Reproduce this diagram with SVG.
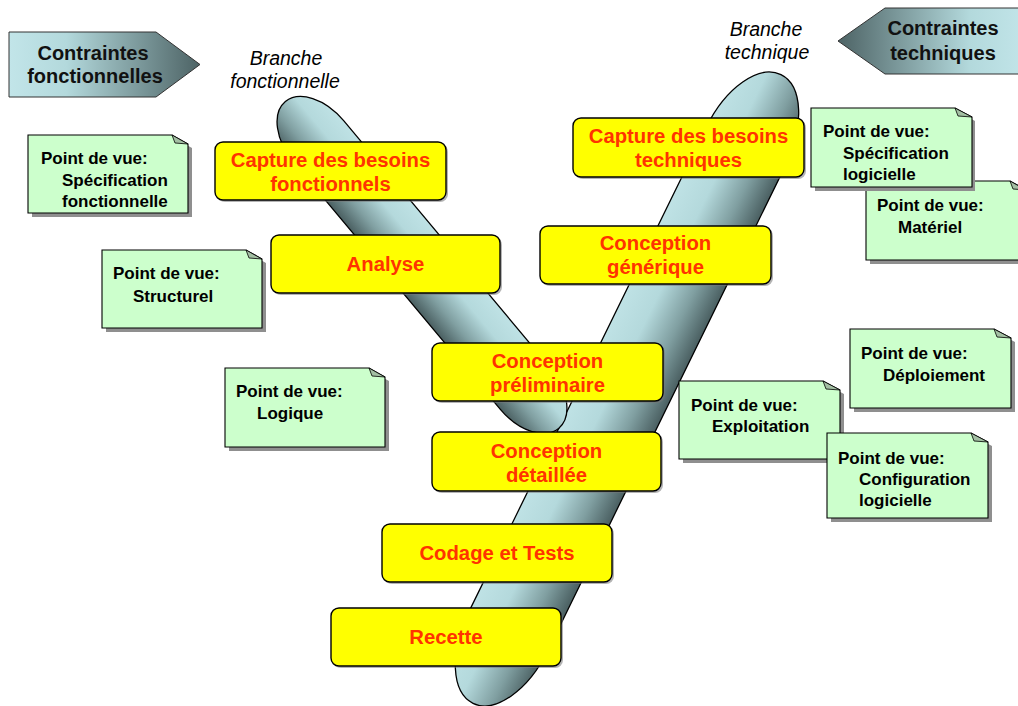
<svg xmlns="http://www.w3.org/2000/svg" width="1018" height="706" viewBox="0 0 1018 706">
  <defs>
    <!-- shading across the two branch cylinders: lit side to dark side -->
    <linearGradient id="cyl" x1="0" y1="0" x2="0" y2="1">
      <stop offset="0" stop-color="#bfe2e5"/>
      <stop offset="0.35" stop-color="#b4d9dc"/>
      <stop offset="0.7" stop-color="#809fa1"/>
      <stop offset="1" stop-color="#4a5f61"/>
    </linearGradient>
    <linearGradient id="arrowL" x1="0" y1="0" x2="1" y2="0">
      <stop offset="0" stop-color="#c2e5e9"/>
      <stop offset="0.3" stop-color="#b3d9dc"/>
      <stop offset="1" stop-color="#4d6365"/>
    </linearGradient>
    <linearGradient id="arrowR" x1="1" y1="0" x2="0" y2="0">
      <stop offset="0" stop-color="#c2e5e9"/>
      <stop offset="0.3" stop-color="#b3d9dc"/>
      <stop offset="1" stop-color="#4d6365"/>
    </linearGradient>
  </defs>
  <style>
    .cyl { fill: url(#cyl); stroke: #000; stroke-width: 1.3; }
    .arrow { stroke: #333; stroke-width: 1; }
    .title { font-family: "Liberation Sans", Arial, sans-serif; font-weight: bold; font-size: 20px; fill: #111; text-anchor: middle; }
    .branch { font-family: "Liberation Sans", Arial, sans-serif; font-style: italic; font-size: 19.5px; fill: #000; text-anchor: middle; }
    .step rect.box { fill: #ffff00; stroke: #000; stroke-width: 1.4; }
    .step rect.shadow { fill: #777; opacity: 0.55; }
    .step text { font-family: "Liberation Sans", Arial, sans-serif; font-weight: bold; font-size: 20.3px; fill: #ff3300; text-anchor: middle; }
    .note .shadow { fill: #8f8f8f; }
    .note .body { fill: #ccffcc; stroke: #000; stroke-width: 1.1; stroke-linejoin: miter; }
    .note .fold { fill: #a3bfa3; stroke: #000; stroke-width: 0.8; }
    .note text { font-family: "Liberation Sans", Arial, sans-serif; font-weight: bold; font-size: 17px; fill: #000; }
  </style>

  <!-- constraint arrows -->
  <g id="contraintes-fonctionnelles">
    <path class="arrow" fill="url(#arrowL)" d="M9,32 H156 L200,64.5 L156,97 H9 Z"/>
    <text class="title" x="93" y="60">Contraintes</text>
    <text class="title" x="95" y="83">fonctionnelles</text>
  </g>
  <g id="contraintes-techniques">
    <path class="arrow" fill="url(#arrowR)" d="M1026,8 H885 L838,41 L885,74 H1026 Z"/>
    <text class="title" x="943" y="35">Contraintes</text>
    <text class="title" x="943" y="60">techniques</text>
  </g>

  <!-- branch labels -->
  <g id="label-branche-fonctionnelle">
    <text class="branch" x="286" y="65">Branche</text>
    <text class="branch" x="285" y="88">fonctionnelle</text>
  </g>
  <g id="label-branche-technique">
    <text class="branch" x="766" y="36">Branche</text>
    <text class="branch" x="767" y="59">technique</text>
  </g>

  <!-- the two branches of the Y -->
  <g id="branches">
    <g id="cylindre-technique" transform="translate(627 389) rotate(-63.9)">
      <rect class="cyl" x="-350" y="-44" width="700" height="88" rx="80" ry="44"/>
    </g>
    <g id="cylindre-fonctionnel" transform="translate(422 265) rotate(50.1)">
      <rect class="cyl" x="-213" y="-32.5" width="426" height="65" rx="52" ry="32.5"/>
    </g>
  </g>

  <!-- process steps -->
  <g id="step-capture-fonctionnels" class="step">
    <rect class="shadow" x="217" y="144" width="231" height="58" rx="8"/>
    <rect class="box" x="215" y="142" width="231" height="58" rx="8"/>
    <text x="330.5" y="167">Capture des besoins</text>
    <text x="330.5" y="191">fonctionnels</text>
  </g>
  <g id="step-analyse" class="step">
    <rect class="shadow" x="273" y="237" width="229" height="58" rx="8"/>
    <rect class="box" x="271" y="235" width="229" height="58" rx="8"/>
    <text x="385.5" y="271">Analyse</text>
  </g>
  <g id="step-capture-techniques" class="step">
    <rect class="shadow" x="575" y="120" width="231" height="59" rx="8"/>
    <rect class="box" x="573" y="118" width="231" height="59" rx="8"/>
    <text x="688.5" y="143">Capture des besoins</text>
    <text x="688.5" y="167">techniques</text>
  </g>
  <g id="step-conception-generique" class="step">
    <rect class="shadow" x="542" y="228" width="231" height="58" rx="8"/>
    <rect class="box" x="540" y="226" width="231" height="58" rx="8"/>
    <text x="655.5" y="250">Conception</text>
    <text x="655.5" y="274">générique</text>
  </g>
  <g id="step-conception-preliminaire" class="step">
    <rect class="shadow" x="434" y="345" width="231" height="58" rx="8"/>
    <rect class="box" x="432" y="343" width="231" height="58" rx="8"/>
    <text x="547.5" y="368">Conception</text>
    <text x="547.5" y="392">préliminaire</text>
  </g>
  <g id="step-conception-detaillee" class="step">
    <rect class="shadow" x="434" y="434" width="229" height="59" rx="8"/>
    <rect class="box" x="432" y="432" width="229" height="59" rx="8"/>
    <text x="546.5" y="458">Conception</text>
    <text x="546.5" y="482">détaillée</text>
  </g>
  <g id="step-codage-tests" class="step">
    <rect class="shadow" x="384" y="526" width="230" height="58" rx="8"/>
    <rect class="box" x="382" y="524" width="230" height="58" rx="8"/>
    <text x="497" y="560">Codage et Tests</text>
  </g>
  <g id="step-recette" class="step">
    <rect class="shadow" x="333" y="610" width="230" height="58" rx="8"/>
    <rect class="box" x="331" y="608" width="230" height="58" rx="8"/>
    <text x="446" y="644">Recette</text>
  </g>

  <!-- viewpoint notes (folded top-right corner) -->
  <g id="note-specification-fonctionnelle" class="note" transform="translate(28 135)">
    <path class="shadow" d="M4,4 H148 L164,13 V82 H4 Z"/>
    <path class="body" d="M0,0 H144 L160,9 V78 H0 Z"/>
    <path class="fold" d="M144,0 L147,8 L160,9 Z"/>
    <text x="13" y="29">Point de vue:</text>
    <text x="34" y="50.5">Spécification</text>
    <text x="34" y="72">fonctionnelle</text>
  </g>
  <g id="note-structurel" class="note" transform="translate(102 250)">
    <path class="shadow" d="M4,4 H148 L164,13 V82 H4 Z"/>
    <path class="body" d="M0,0 H144 L160,9 V78 H0 Z"/>
    <path class="fold" d="M144,0 L147,8 L160,9 Z"/>
    <text x="11" y="29">Point de vue:</text>
    <text x="31" y="52">Structurel</text>
  </g>
  <g id="note-logique" class="note" transform="translate(225 368)">
    <path class="shadow" d="M4,4 H148 L164,13 V83 H4 Z"/>
    <path class="body" d="M0,0 H144 L160,9 V79 H0 Z"/>
    <path class="fold" d="M144,0 L147,8 L160,9 Z"/>
    <text x="11" y="29">Point de vue:</text>
    <text x="32" y="51">Logique</text>
  </g>
  <g id="note-materiel" class="note" transform="translate(866 181)">
    <path class="shadow" d="M4,4 H148 L164,13 V83 H4 Z"/>
    <path class="body" d="M0,0 H144 L160,9 V79 H0 Z"/>
    <path class="fold" d="M144,0 L147,8 L160,9 Z"/>
    <text x="11" y="30">Point de vue:</text>
    <text x="32" y="52">Matériel</text>
  </g>
  <g id="note-specification-logicielle" class="note" transform="translate(811 108)">
    <path class="shadow" d="M4,4 H148 L164,13 V83 H4 Z"/>
    <path class="body" d="M0,0 H144 L161,9 V79 H0 Z"/>
    <path class="fold" d="M144,0 L147,8 L161,9 Z"/>
    <text x="12" y="29">Point de vue:</text>
    <text x="32" y="51">Spécification</text>
    <text x="32" y="72">logicielle</text>
  </g>
  <g id="note-deploiement" class="note" transform="translate(850 329)">
    <path class="shadow" d="M4,4 H148 L165,13 V83 H4 Z"/>
    <path class="body" d="M0,0 H144 L161,9 V79 H0 Z"/>
    <path class="fold" d="M144,0 L147,8 L161,9 Z"/>
    <text x="11" y="30">Point de vue:</text>
    <text x="33" y="52">Déploiement</text>
  </g>
  <g id="note-exploitation" class="note" transform="translate(679 381)">
    <path class="shadow" d="M4,4 H148 L165,13 V82 H4 Z"/>
    <path class="body" d="M0,0 H144 L161,9 V78 H0 Z"/>
    <path class="fold" d="M144,0 L147,8 L161,9 Z"/>
    <text x="12" y="30">Point de vue:</text>
    <text x="33" y="51">Exploitation</text>
  </g>
  <g id="note-configuration-logicielle" class="note" transform="translate(827 433)">
    <path class="shadow" d="M4,4 H148 L165,13 V89 H4 Z"/>
    <path class="body" d="M0,0 H144 L161,9 V85 H0 Z"/>
    <path class="fold" d="M144,0 L147,8 L161,9 Z"/>
    <text x="11" y="31">Point de vue:</text>
    <text x="32" y="52">Configuration</text>
    <text x="32" y="73">logicielle</text>
  </g>

  <!-- no connectors: the diagram links its steps through the branch shapes -->
  <g id="connectors"/>
</svg>
